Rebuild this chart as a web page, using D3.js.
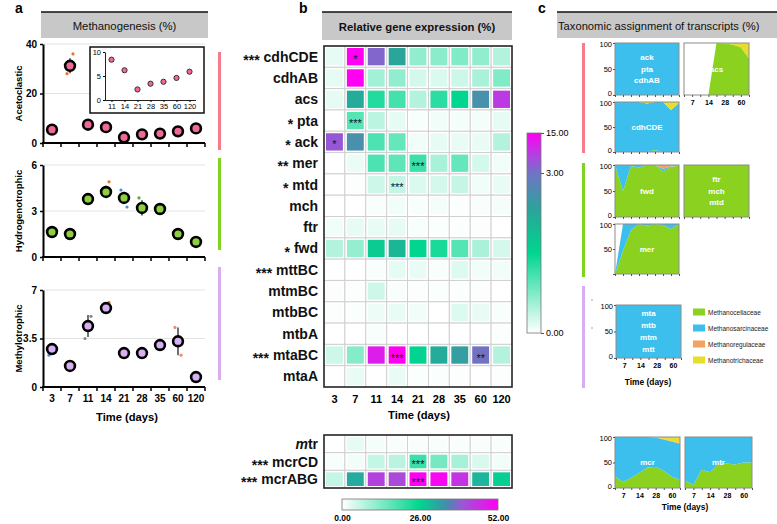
<!DOCTYPE html>
<html><head><meta charset="utf-8">
<script src="https://cdn.jsdelivr.net/npm/d3@7"></script>
<style>body{margin:0;background:#fff;} svg{display:block;font-family:"Liberation Sans",Arial,sans-serif;}</style>
</head><body><svg id="chart" width="777" height="524"></svg>
<script>
// ---------------- DATA ----------------
const days = ["3","7","11","14","21","28","35","60","120"];
const insetDays = ["11","14","21","28","35","60","120"];

const acetoclastic = [5.4, 31.2, 7.4, 6.4, 2.3, 3.5, 3.8, 4.7, 5.9];
const acetoclasticErr = [0.4, 3.0, 0.6, 0.5, 0.3, 0.4, 0.4, 0.5, 0.7];
const acetoclasticInset = [8.4, 6.2, 2.2, 3.4, 3.8, 4.6, 5.9];
const hydrogenotrophic = [1.63, 1.5, 3.78, 4.24, 3.85, 3.2, 3.13, 1.5, 0.98];
const hydrogenotrophicErr = [0.1, 0.1, 0.2, 0.4, 0.4, 0.5, 0.2, 0.1, 0.1];
const methylotrophic = [2.74, 1.52, 4.4, 5.7, 2.45, 2.45, 3.03, 3.3, 0.72];
const methylotrophicErr = [0.4, 0.1, 0.8, 0.3, 0.1, 0.1, 0.3, 1.0, 0.1];
// replicate outliers: [day, value, replicate]
const acetoclasticReps = [["7", 36, 0], ["7", 28, 0]];
const hydrogenotrophicReps = [["14", 4.9, 0], ["21", 4.37, 1], ["21", 3.26, 1], ["28", 3.85, 2]];
const methylotrophicReps = [["3", 2.95, 1], ["3", 2.3, 1], ["11", 5.1, 3], ["11", 3.5, 3], ["14", 6.1, 0], ["60", 4.3, 4], ["60", 2.3, 4]];

const genes = ["cdhCDE","cdhAB","acs","pta","ack","mer","mtd","mch","ftr","fwd","mttBC","mtmBC","mtbBC","mtbA","mtaBC","mtaA"];
const geneStars = ["***","","","*","*","**","*","","","*","***","","","","***",""];
const expression = [
  [0.15, 15, 4.5, 2.3, 0.65, 0.68, 0.75, 0.65, 0.45],
  [0.15, 15, 0.55, 0.65, 0.25, 0.22, 0.3, 0.5, 0.75],
  [0.15, 2.2, 1.3, 1.1, 0.45, 1.25, 1.5, 2.6, 9],
  [0, 1.0, 0.4, 0.15, 0.05, 0.08, 0.07, 0.07, 0.15],
  [6, 2.6, 1.05, 0.9, 0.08, 0.15, 0.13, 0.13, 0.45],
  [0, 0.12, 1.05, 0.95, 1.15, 0.5, 0.9, 0.25, 0.08],
  [0, 0.02, 0.3, 0.35, 0.22, 0.25, 0.35, 0.08, 0.13],
  [0, 0, 0.05, 0.08, 0.04, 0.06, 0.03, 0.05, 0.06],
  [0.08, 0.15, 0.13, 0.15, 0.05, 0.03, 0.03, 0.02, 0],
  [0.45, 0.62, 1.7, 2.0, 1.5, 1.35, 1.0, 0.5, 0.25],
  [0, 0, 0.05, 0.15, 0.13, 0.05, 0.2, 0.08, 0.08],
  [0.02, 0.03, 0.3, 0.05, 0.02, 0.03, 0.03, 0.02, 0],
  [0.02, 0.03, 0.1, 0.13, 0.08, 0, 0.2, 0.13, 0.05],
  [0, 0, 0.05, 0, 0, 0, 0, 0, 0.03],
  [0.3, 0.72, 12, 15, 1.55, 2.2, 2.4, 3.2, 0.45],
  [0, 0.13, 0, 0.13, 0.03, 0.03, 0.02, 0, 0.02]
];
const expressionStars = [["cdhCDE","7","*"],["pta","7","***"],["ack","3","*"],["mer","21","***"],["mtd","14","***"],["mtaBC","14","***"],["mtaBC","60","**"]];
const genes2 = ["mtr","mcrCD","mcrABG"];
const geneStars2 = ["","***","***"];
const expression2 = [
  [0, 2.5, 1, 0.8, 0.8, 0.8, 0.8, 0.8, 0.8],
  [0.8, 1.5, 6, 7, 20, 14, 9, 4, 1.5],
  [6, 31, 43, 42, 52, 51, 45, 30, 27]
];
const expressionStars2 = [["mcrCD","21","***"],["mcrABG","21","***"]];
const topTicks = [0, 3, 15];
const bottomTicks = [0, 26, 52];

const families = ["Methanocellaceae","Methanosarcinaceae","Methanoregulaceae","Methanotrichaceae"];
const taxLabelDays = ["7","14","28","60"];
// rows: Methanocellaceae, Methanosarcinaceae, Methanoregulaceae, Methanotrichaceae; columns: days
const taxAckPtaCdhAB = [
  [0,0,0,0,0,0,0,0,0],
  [100,100,100,100,100,100,100,100,100],
  [0,0,0,0,0,0,0,0,0],
  [0,0,0,0,0,0,0,0,0]];
const taxAcs = [
  [0,0,0,0,100,99,97,92,70],
  [0,0,0,0,0,0,0,0,0],
  [0,0,0,0,0,0,0,0,0],
  [0,0,0,0,0,1,3,8,30]];
const taxCdhCDE = [
  [0,0,0,0,0,4,0,0,0],
  [100,100,100,100,97,96,100,84,98],
  [0,0,0,0,0,0,0,0,0],
  [0,0,0,0,3,0,0,16,2]];
const taxFwd = [
  [100,50,98,95,100,100,88,96,99],
  [0,50,2,5,0,0,5,1,0],
  [0,0,0,0,0,0,7,3,1],
  [0,0,0,0,0,0,0,0,0]];
const taxFtrMchMtd = [
  [100,100,100,100,100,100,100,100,100],
  [0,0,0,0,0,0,0,0,0],
  [0,0,0,0,0,0,0,0,0],
  [0,0,0,0,0,0,0,0,0]];
const taxMer = [
  [0,47,88,100,97,100,98,90,100],
  [0,53,12,0,3,0,2,10,0],
  [0,0,0,0,0,0,0,0,0],
  [0,0,0,0,0,0,0,0,0]];
const taxMtaMtbMtmMtt = [
  [0,0,0,0,0,0,0,0,0],
  [100,100,100,100,100,100,100,100,100],
  [0,0,0,0,0,0,0,0,0],
  [0,0,0,0,0,0,0,0,0]];
const taxMcr = [
  [23,12,20,30,40,41,34,22,16],
  [77,88,80,70,60,58,61,69,71],
  [0,0,0,0,0,0,1,1,1],
  [0,0,0,0,0,1,4,8,12]];
const taxMtr = [
  [15,6,36,31,47,48,46,50,50],
  [85,94,64,69,53,52,54,50,50],
  [0,0,0,0,0,0,0,0,0],
  [0,0,0,0,0,0,0,0,0]];

// ---------------- DRAWING ----------------
const FONT = '"Liberation Sans", Arial, sans-serif';
const svg = d3.select("#chart");
svg.append("rect").attr("width", 777).attr("height", 524).attr("fill", "#fff");

function styleAxisText(sel, size, weight) {
  sel.selectAll("text").attr("font-family", FONT).attr("font-size", size)
    .attr("font-weight", weight).attr("fill", "#000");
}

function header(x, y, w, h, text, size, weight, anchor) {
  svg.append("rect").attr("x", x).attr("y", y).attr("width", w).attr("height", h).attr("fill", "#c8c8c8");
  svg.append("line").attr("x1", x).attr("x2", x + w).attr("y1", y).attr("y2", y)
    .attr("stroke", "#111").attr("stroke-width", 1.5);
  svg.append("text").attr("x", anchor === "start" ? x + 1 : x + w / 2).attr("y", y + h / 2 + 1)
    .attr("text-anchor", anchor || "middle").attr("dominant-baseline", "central")
    .attr("font-size", size).attr("font-weight", weight).attr("fill", "#111").text(text);
}
function letter(x, t) {
  svg.append("text").attr("x", x).attr("y", 13).attr("font-size", 14).attr("font-weight", "bold").text(t);
}
letter(15, "a"); letter(299, "b"); letter(538, "c");
header(41, 12, 167, 26, "Methanogenesis (%)", 11.3, "normal");
header(322, 12, 190, 28, "Relative gene expression (%)", 11.3, "bold");
header(557, 12, 220, 26, "Taxonomic assignment of transcripts (%)", 11.2, "normal", "start");

// ---------- panel a ----------
const repColors = ["#e8762c", "#4a8fd6", "#5aa83c", "#8a8a8a", "#f08a70"];
const aPanels = [
  {title: "Acetoclastic", values: acetoclastic, err: acetoclasticErr, reps: acetoclasticReps, ticks: [0, 20, 40],
   top: 44, bottom: 143, fill: "#ee6a93", side: "#f47c8c", sideTop: 52, sideBottom: 150},
  {title: "Hydrogenotrophic", values: hydrogenotrophic, err: hydrogenotrophicErr, reps: hydrogenotrophicReps, ticks: [0, 3, 6],
   top: 165, bottom: 257, fill: "#8dcf3f", side: "#7fd321", sideTop: 158, sideBottom: 250},
  {title: "Methylotrophic", values: methylotrophic, err: methylotrophicErr, reps: methylotrophicReps, ticks: [0, 3.5, 7],
   top: 290, bottom: 387, fill: "#d6b0f2", side: "#d8aef0", sideTop: 267, sideBottom: 380}
];
const xA = d3.scaleBand().domain(days).range([43, 205]);
aPanels.forEach((p, pi) => {
  const y = d3.scaleLinear().domain([0, p.ticks[2]]).range([p.bottom, p.top]);
  const g = svg.append("g");
  g.selectAll("line.grid").data(p.ticks.filter(t => t > 0)).join("line").attr("class", "grid")
    .attr("x1", 44).attr("x2", 205).attr("y1", d => y(d)).attr("y2", d => y(d))
    .attr("stroke", "#e3e3e3").attr("stroke-width", 1);
  const ya = g.append("g").attr("transform", "translate(43,0)")
    .call(d3.axisLeft(y).tickValues(p.ticks).tickSize(3).tickSizeOuter(0).tickPadding(3).tickFormat(d3.format("~g")));
  ya.select(".domain").attr("stroke", "#000").attr("stroke-width", 2);
  ya.selectAll(".tick line").attr("stroke", "#000").attr("stroke-width", 1.5);
  styleAxisText(ya, 10, "bold");
  g.append("line").attr("x1", 42).attr("x2", 205).attr("y1", p.bottom).attr("y2", p.bottom)
    .attr("stroke", "#000").attr("stroke-width", 2);
  const edges = days.map(d => xA(d)).concat([xA.range()[1]]);
  g.selectAll("line.xt").data(edges).join("line").attr("class", "xt")
    .attr("x1", d => d).attr("x2", d => d).attr("y1", p.bottom).attr("y2", p.bottom + 4)
    .attr("stroke", "#000").attr("stroke-width", 1.5);
  if (pi === 2) {
    const xa = g.append("g").attr("transform", `translate(0,${p.bottom})`)
      .call(d3.axisBottom(xA).tickSize(0).tickPadding(8));
    xa.select(".domain").remove();
    styleAxisText(xa, 10, "bold");
    g.append("text").attr("x", 127).attr("y", 421).attr("text-anchor", "middle")
      .attr("font-size", 11.2).attr("font-weight", "bold").text("Time (days)");
  }
  const pts = days.map((d, i) => ({day: d, v: p.values[i], e: p.err[i]}));
  g.selectAll("line.err").data(pts).join("line").attr("class", "err")
    .attr("x1", d => xA(d.day) + xA.bandwidth() / 2).attr("x2", d => xA(d.day) + xA.bandwidth() / 2)
    .attr("y1", d => y(Math.max(0, d.v - d.e))).attr("y2", d => y(d.v + d.e))
    .attr("stroke", "#111").attr("stroke-width", 1.2);
  g.selectAll("circle.rep").data(p.reps).join("circle").attr("class", "rep")
    .attr("cx", (d, i) => xA(d[0]) + xA.bandwidth() / 2 + (i % 2 ? -3 : 3))
    .attr("cy", d => y(d[1])).attr("r", 1.6).attr("fill", d => repColors[d[2]]);
  g.selectAll("circle.pt").data(pts).join("circle").attr("class", "pt")
    .attr("cx", d => xA(d.day) + xA.bandwidth() / 2).attr("cy", d => y(d.v))
    .attr("r", 4.9).attr("fill", p.fill).attr("stroke", "#000").attr("stroke-width", 2.6);
  const mid = (p.top + p.bottom) / 2;
  g.append("text").attr("transform", `translate(18,${mid}) rotate(-90)`).attr("text-anchor", "middle")
    .attr("dominant-baseline", "central").attr("font-size", 9.5).attr("font-weight", "bold").text(p.title);
  g.append("rect").attr("x", 218).attr("y", p.sideTop).attr("width", 3).attr("height", p.sideBottom - p.sideTop)
    .attr("fill", p.side);
  if (pi === 0) {
    // inset
    g.append("rect").attr("x", 90).attr("y", 47).attr("width", 114).attr("height", 66)
      .attr("fill", "#fff").attr("stroke", "#111").attr("stroke-width", 1.5);
    const xi = d3.scalePoint().domain(insetDays).range([105, 196]).padding(0.5);
    const yi = d3.scaleLinear().domain([0, 10]).range([100, 52]);
    const yia = g.append("g").attr("transform", "translate(105,0)")
      .call(d3.axisLeft(yi).tickValues([0, 5, 10]).tickSize(2).tickSizeOuter(0).tickPadding(2));
    yia.select(".domain").attr("stroke", "#222").attr("stroke-width", 1);
    styleAxisText(yia, 7.5, "normal");
    const xia = g.append("g").attr("transform", "translate(0,100)")
      .call(d3.axisBottom(xi).tickSize(2).tickSizeOuter(0).tickPadding(2));
    xia.select(".domain").attr("stroke", "#222").attr("stroke-width", 1).attr("d", "M105,0.5H196");
    styleAxisText(xia, 7.5, "normal");
    g.selectAll("circle.ins").data(insetDays.map((d, i) => ({day: d, v: acetoclasticInset[i]}))).join("circle")
      .attr("class", "ins").attr("cx", d => xi(d.day)).attr("cy", d => yi(d.v)).attr("r", 2.6)
      .attr("fill", p.fill).attr("stroke", "#333").attr("stroke-width", 1);
  }
});

// ---------- panel b ----------
const topColor = d3.scaleLinear().domain([0, 1.5, 2.3, 3, 8, 15])
  .range(["#ffffff", "#00d68f", "#2aa59a", "#6f74c4", "#b044e0", "#ff00f2"]).clamp(true);
const bottomColor = d3.scaleLinear().domain([0, 26, 34, 40, 52])
  .range(["#ffffff", "#00d68f", "#3a94a8", "#9a58d4", "#ff00f2"]).clamp(true);

function heatmap(geneList, starList, matrix, cellStars, y0, y1, color) {
  const hx = d3.scaleBand().domain(days).range([324, 512]);
  const hy = d3.scaleBand().domain(geneList).range([y0, y1]);
  const cells = [];
  matrix.forEach((row, i) => row.forEach((v, j) => cells.push({gene: geneList[i], day: days[j], v})));
  const g = svg.append("g");
  g.selectAll("rect.bg").data(cells).join("rect").attr("class", "bg")
    .attr("x", d => hx(d.day)).attr("y", d => hy(d.gene)).attr("width", hx.bandwidth()).attr("height", hy.bandwidth())
    .attr("fill", "#fff").attr("stroke", "#d0d0d0").attr("stroke-width", 1);
  g.selectAll("rect.cell").data(cells).join("rect").attr("class", "cell")
    .attr("x", d => hx(d.day) + 2).attr("y", d => hy(d.gene) + 2)
    .attr("width", hx.bandwidth() - 4).attr("height", hy.bandwidth() - 4).attr("fill", d => color(d.v));
  g.append("rect").attr("x", 324).attr("y", y0).attr("width", 188).attr("height", y1 - y0)
    .attr("fill", "none").attr("stroke", "#2a2a2a").attr("stroke-width", 1.6);
  g.selectAll("text.star").data(cellStars).join("text").attr("class", "star")
    .attr("x", d => hx(d[1]) + hx.bandwidth() / 2).attr("y", d => hy(d[0]) + hy.bandwidth() / 2 + 6.5)
    .attr("text-anchor", "middle").attr("font-size", 11).attr("fill", "#111").text(d => d[2]);
  const lab = g.selectAll("text.row").data(geneList).join("text").attr("class", "row")
    .attr("x", 318).attr("y", d => hy(d) + hy.bandwidth() / 2 + 5)
    .attr("text-anchor", "end").attr("font-size", 14).attr("font-weight", "bold").attr("fill", "#111");
  lab.each(function(d, i) {
    const t = d3.select(this);
    if (starList[i]) t.append("tspan").attr("dy", "0.22em").text(starList[i] + " ");
    const dy = starList[i] ? "-0.22em" : null;
    if (d === "mtr") {
      t.append("tspan").attr("dy", dy).attr("font-style", "italic").text("m");
      t.append("tspan").text("tr");
    } else {
      t.append("tspan").attr("dy", dy).text(d);
    }
  });
  return hx;
}
const hx = heatmap(genes, geneStars, expression, expressionStars, 46, 387, topColor);
heatmap(genes2, geneStars2, expression2, expressionStars2, 435, 488, bottomColor);
const hxa = svg.append("g").attr("transform", "translate(0,387)")
  .call(d3.axisBottom(hx).tickSize(0).tickPadding(8));
hxa.select(".domain").remove();
styleAxisText(hxa, 11, "bold");
svg.append("text").attr("x", 419).attr("y", 419).attr("text-anchor", "middle")
  .attr("font-size", 11.2).attr("font-weight", "bold").text("Time (days)");

// vertical colorbar
const defs = svg.append("defs");
const cbPos = d3.scaleLinear().domain([0, 3, 15]).range([333, 173, 133]);
const vg = defs.append("linearGradient").attr("id", "vgrad").attr("x1", 0).attr("y1", 1).attr("x2", 0).attr("y2", 0);
d3.range(0, 1.0001, 0.02).forEach(t => {
  const v = cbPos.invert(333 - t * 200);
  vg.append("stop").attr("offset", t).attr("stop-color", topColor(v));
});
svg.append("rect").attr("x", 527).attr("y", 133).attr("width", 14).attr("height", 200)
  .attr("fill", "url(#vgrad)").attr("stroke", "#777").attr("stroke-width", 0.8);
const cba = svg.append("g").attr("transform", "translate(541,0)")
  .call(d3.axisRight(cbPos).tickValues(topTicks).tickSize(3).tickPadding(2).tickFormat(d3.format(".2f")));
cba.select(".domain").remove();
cba.selectAll(".tick line").attr("stroke", "#555");
styleAxisText(cba, 9, "normal");

// bottom colorbar
const cbX = d3.scaleLinear().domain([0, 52]).range([342, 498]);
const hg = defs.append("linearGradient").attr("id", "hgrad").attr("x1", 0).attr("y1", 0).attr("x2", 1).attr("y2", 0);
d3.range(0, 1.0001, 0.02).forEach(t => {
  hg.append("stop").attr("offset", t).attr("stop-color", bottomColor(cbX.invert(342 + t * 156)));
});
svg.append("rect").attr("x", 342).attr("y", 499).attr("width", 156).attr("height", 11)
  .attr("fill", "url(#hgrad)").attr("stroke", "#777").attr("stroke-width", 0.8);
const cbb = svg.append("g").attr("transform", "translate(0,510)")
  .call(d3.axisBottom(cbX).tickValues(bottomTicks).tickSize(0).tickPadding(5).tickFormat(d3.format(".2f")));
cbb.select(".domain").remove();
styleAxisText(cbb, 8.5, "bold");

// ---------- panel c ----------
const famColor = d3.scaleOrdinal().domain(families).range(["#8bd11f", "#3dbfee", "#f4a262", "#e6dd2c"]);
const taxCharts = [
  {data: taxAckPtaCdhAB, labels: ["ack","pta","cdhAB"], x: 615, y: 43, w: 64, h: 52, yAxis: true},
  {data: taxAcs, labels: ["acs"], x: 684, y: 43, w: 65, h: 52, xLabels: true},
  {data: taxCdhCDE, labels: ["cdhCDE"], x: 615, y: 102, w: 64, h: 50, yAxis: true},
  {data: taxFwd, labels: ["fwd"], x: 615, y: 165, w: 64, h: 52, yAxis: true},
  {data: taxFtrMchMtd, labels: ["ftr","mch","mtd"], x: 684, y: 165, w: 65, h: 52},
  {data: taxMer, labels: ["mer"], x: 615, y: 224, w: 64, h: 50, yAxis: true, hideZero: true},
  {data: taxMtaMtbMtmMtt, labels: ["mta","mtb","mtm","mtt"], x: 616, y: 305, w: 65, h: 53, yAxis: true, xLabels: true},
  {data: taxMcr, labels: ["mcr"], x: 615, y: 437, w: 65, h: 51, yAxis: true, xLabels: true},
  {data: taxMtr, labels: ["mtr"], x: 685, y: 437, w: 67, h: 51, xLabels: true}
];
taxCharts.forEach(c => {
  const g = svg.append("g");
  const x = d3.scalePoint().domain(days).range([c.x, c.x + c.w]);
  const y = d3.scaleLinear().domain([0, 100]).range([c.y + c.h, c.y]);
  const rows = days.map((d, j) => {
    const o = {day: d};
    families.forEach((f, i) => o[f] = c.data[i][j]);
    return o;
  });
  const series = d3.stack().keys(families)(rows);
  g.append("rect").attr("x", c.x).attr("y", c.y).attr("width", c.w).attr("height", c.h).attr("fill", "#fff");
  const area = d3.area().x(d => x(d.data.day)).y0(d => y(d[0])).y1(d => y(d[1]));
  g.selectAll("path.area").data(series).join("path").attr("class", "area")
    .attr("d", area).attr("fill", d => famColor(d.key));
  g.append("rect").attr("x", c.x).attr("y", c.y).attr("width", c.w).attr("height", c.h)
    .attr("fill", "none").attr("stroke", "#8c8c8c").attr("stroke-width", 1);
  const xa = g.append("g").attr("transform", `translate(0,${c.y + c.h})`)
    .call(d3.axisBottom(x).tickSize(2).tickSizeOuter(0).tickPadding(3)
      .tickFormat(d => c.xLabels && taxLabelDays.includes(d) ? d : ""));
  xa.select(".domain").remove();
  xa.selectAll(".tick line").attr("stroke", "#555");
  styleAxisText(xa, 7, "bold");
  if (c.yAxis) {
    const ya = g.append("g").attr("transform", `translate(${c.x},0)`)
      .call(d3.axisLeft(y).tickValues([0, 50, 100]).tickSize(2).tickPadding(1)
        .tickFormat(d => (c.hideZero && d === 0) ? "" : d));
    ya.select(".domain").remove();
    ya.selectAll(".tick line").attr("stroke", "#555");
    styleAxisText(ya, 7.5, "normal");
    // nudge end labels inward so stacked charts' labels do not collide
    ya.selectAll(".tick text").attr("dy", d => d === 0 ? "0.1em" : d === 100 ? "0.5em" : "0.32em");
  }
  const cx = c.x + c.w / 2, cy = c.y + c.h / 2;
  const n = c.labels.length;
  g.selectAll("text.lab").data(c.labels).join("text").attr("class", "lab")
    .attr("x", cx).attr("y", (d, i) => cy + (i - (n - 1) / 2) * 11.7)
    .attr("text-anchor", "middle").attr("dominant-baseline", "central")
    .attr("font-size", 8).attr("font-weight", "bold").attr("fill", "#fff").text(d => d);
});
svg.append("text").attr("x", 648).attr("y", 385).attr("text-anchor", "middle")
  .attr("font-size", 8.4).attr("font-weight", "bold").text("Time (days)");
svg.append("text").attr("x", 685).attr("y", 510).attr("text-anchor", "middle")
  .attr("font-size", 8.4).attr("font-weight", "bold").text("Time (days)");

// side bars of panel c
[["#f47c8c", 43, 153], ["#7fd321", 163, 277], ["#d8aef0", 286, 388]].forEach(s => {
  svg.append("rect").attr("x", 582).attr("y", s[1]).attr("width", 3).attr("height", s[2] - s[1]).attr("fill", s[0]);
});
[300, 328].forEach(yy => svg.append("circle").attr("cx", 592).attr("cy", yy).attr("r", 0.8).attr("fill", "#999"));

// legend
const lg = svg.append("g");
lg.selectAll("rect").data(families).join("rect")
  .attr("x", 693).attr("y", (d, i) => 308.5 + i * 16).attr("width", 12).attr("height", 7).attr("fill", d => famColor(d));
lg.selectAll("text").data(families).join("text")
  .attr("x", 708).attr("y", (d, i) => 312 + i * 16).attr("dominant-baseline", "central")
  .attr("font-size", 6.5).attr("fill", "#222").text(d => d);
</script></body></html>
